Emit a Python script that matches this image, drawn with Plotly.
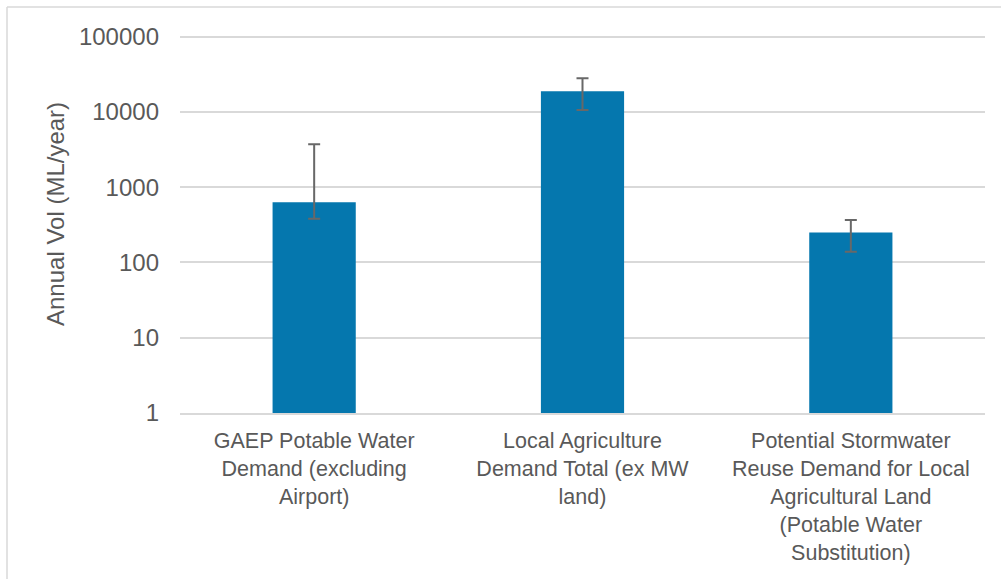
import plotly.graph_objects as go

# Annual water demand by category (ML/year), with low/high range
categories = [
    "GAEP Potable Water<br>Demand (excluding<br>Airport)",
    "Local Agriculture<br>Demand Total (ex MW<br>land)",
    "Potential Stormwater<br>Reuse Demand for Local<br>Agricultural Land<br>(Potable Water<br>Substitution)",
]
values = [630, 18800, 250]
range_high = [3700, 28000, 365]
range_low = [380, 10600, 138]

tick_vals = [1, 10, 100, 1000, 10000, 100000]
tick_text = ["1", "10", "100", "1000", "10000", "100000"]

err_plus = [h - v for h, v in zip(range_high, values)]
err_minus = [v - l for v, l in zip(values, range_low)]

TEXT = "#595959"
GRID = "#D9D9D9"
FONT = "Liberation Sans, Arial, sans-serif"

W, H = 1001, 579
L, R, T, B = 180, 16, 35, 166

fig = go.Figure(
    go.Bar(
        x=categories,
        y=values,
        marker=dict(color="#0577AE", line=dict(width=0)),
        error_y=dict(
            type="data",
            symmetric=False,
            array=err_plus,
            arrayminus=err_minus,
            color="#686868",
            thickness=2,
            width=6,
        ),
    )
)

pw = W - L - R
ph = H - T - B
px = lambda x: (x - L) / pw
py = lambda y: (H - B - y) / ph

fig.update_layout(
    width=W,
    height=H,
    margin=dict(l=L, r=R, t=T, b=B, autoexpand=False),
    paper_bgcolor="white",
    plot_bgcolor="white",
    bargap=0.69,
    showlegend=False,
    font=dict(family=FONT, size=22, color=TEXT),
    xaxis=dict(
        showgrid=False,
        showline=True,
        linecolor=GRID,
        linewidth=2,
        ticks="",
        tickfont=dict(size=21.5, color=TEXT),
        ticklabelstandoff=7,
    ),
    yaxis=dict(
        type="log",
        range=[0, 5.02],
        tickvals=tick_vals,
        ticktext=tick_text,
        showgrid=True,
        gridcolor=GRID,
        gridwidth=2,
        zeroline=False,
        showline=False,
        ticks="",
        tickfont=dict(size=24, color=TEXT),
        ticklabelstandoff=20,
    ),
    annotations=[
        dict(
            text="Annual Vol (ML/year)",
            xref="paper",
            yref="paper",
            x=px(56),
            y=py(214),
            textangle=-90,
            showarrow=False,
            xanchor="center",
            yanchor="middle",
            font=dict(size=24, color=TEXT),
        )
    ],
    shapes=[
        dict(type="line", xref="paper", yref="paper",
             x0=px(7), x1=px(W + 5), y0=py(7), y1=py(7),
             line=dict(color=GRID, width=1.5)),
        dict(type="line", xref="paper", yref="paper",
             x0=px(7), x1=px(7), y0=py(7), y1=py(H + 5),
             line=dict(color=GRID, width=1.5)),
    ],
)

fig.write_html("out.html")
